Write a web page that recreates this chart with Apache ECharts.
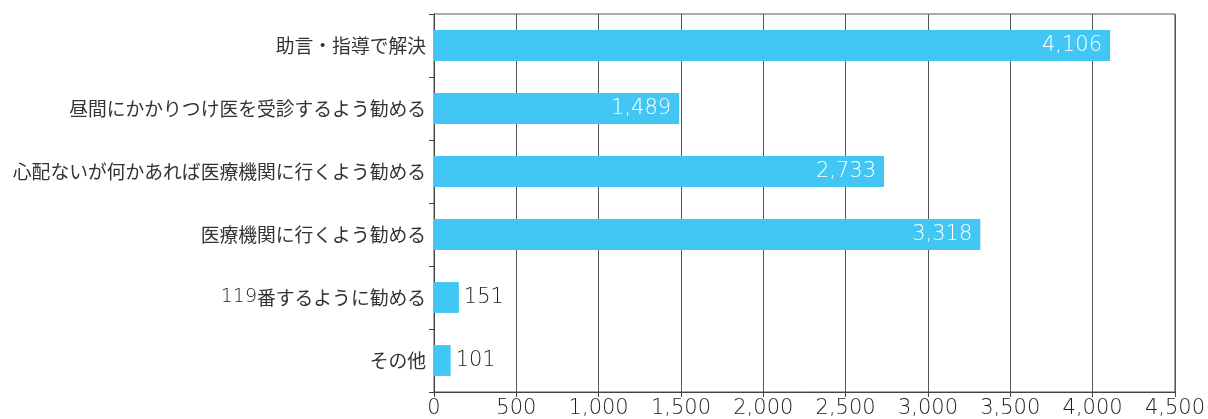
<!DOCTYPE html>
<html><head><meta charset="utf-8">
<script src="https://cdn.jsdelivr.net/npm/echarts@6/dist/echarts.min.js"></script>
<style>html,body{margin:0;padding:0;background:#fff}#c{width:1208px;height:419px}</style>
</head><body><div id="c"></div>
<script>
const categories = ['助言・指導で解決','昼間にかかりつけ医を受診するよう勧める','心配ないが何かあれば医療機関に行くよう勧める','医療機関に行くよう勧める','119番するように勧める','その他'];
const values = [4106, 1489, 2733, 3318, 151, 101];
const xTicks = [0, 500, 1000, 1500, 2000, 2500, 3000, 3500, 4000, 4500];

const font = '"Noto Sans CJK JP", sans-serif';
const numFont = '"DejaVu Sans", sans-serif';
const fmt = v => Number(v).toLocaleString('en-US');
const chart = echarts.init(document.getElementById('c'));
chart.setOption({
  animation: false,
  grid: {left: 434, right: 32, top: 14, bottom: 27, show: true, borderColor: '#555', borderWidth: 1},
  xAxis: {
    type: 'value', min: xTicks[0], max: xTicks[xTicks.length-1], interval: 500,
    axisLine: {show: true, lineStyle: {color: '#444'}},
    axisTick: {show: true, length: 5, lineStyle: {color: '#444'}},
    splitLine: {show: true, lineStyle: {color: '#555', width: 1}},
    axisLabel: {color: '#1e1e1e', fontSize: 21, fontFamily: numFont, fontWeight: 200, margin: 6, formatter: fmt}
  },
  yAxis: {
    type: 'category', data: categories, inverse: true,
    axisLine: {show: true, lineStyle: {color: '#444'}},
    axisTick: {show: true, length: 5, alignWithLabel: false, lineStyle: {color: '#444'}},
    axisLabel: {
      color: '#333', fontSize: 18.8, fontFamily: font, margin: 8,
      formatter: s => s.replace(/(\d+)/g, '{n|$1}'),
      rich: {n: {fontFamily: numFont, fontWeight: 200, fontSize: 19, color: '#1e1e1e'}}
    }
  },
  series: [{
    type: 'bar', barWidth: '49%',
    itemStyle: {color: '#42C7F4'},
    data: values.map(v => ({
      value: v,
      label: v > 1000
        ? {show: true, position: 'insideRight', distance: 8, color: '#fff', fontSize: 21, fontFamily: numFont, fontWeight: 200, formatter: p => fmt(p.value)}
        : {show: true, position: 'right', distance: 5, color: '#1e1e1e', fontSize: 21, fontFamily: numFont, fontWeight: 200, formatter: p => fmt(p.value)}
    }))
  }]
});
</script></body></html>
